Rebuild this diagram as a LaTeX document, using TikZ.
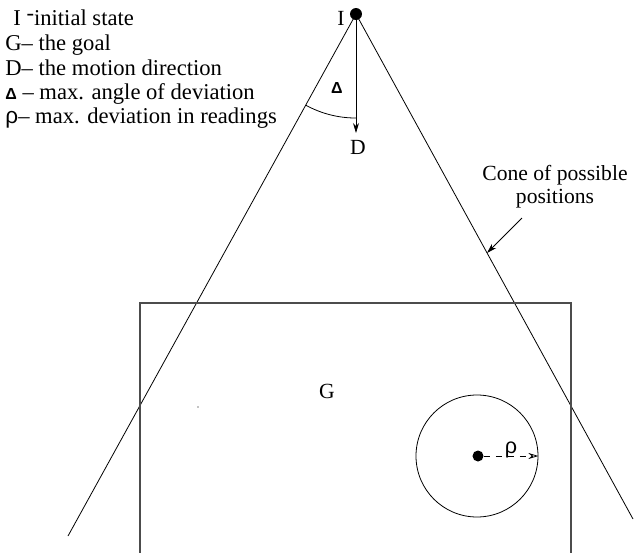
\documentclass[tikz,border=0pt]{standalone}
\usepackage{fontspec}
\setmainfont{Liberation Serif}
\newfontfamily\symfont{Liberation Sans}
\usetikzlibrary{arrows.meta, calc}
\tikzset{
  lbl/.style={inner sep=0pt, font=\fontsize{10.8}{11.5}\selectfont},
  legend/.style={inner sep=0pt, anchor=base west, font=\fontsize{11.3}{12}\selectfont},
  dotnode/.style={circle, fill=black, inner sep=0pt, minimum size=6pt},
  thinarrow/.style={-{Stealth[length=5pt, width=3pt, open]}, thin},
  boxline/.style={draw=black!70, line width=0.7pt},
  coneline/.style={thin, color=black}
}
\begin{document}
\begin{tikzpicture}[x=0.5pt, y=-0.5pt]
  \useasboundingbox (0,0) rectangle (634,553);

  % Legend
  \node[legend] (l1) at (13,25) {I \raisebox{2.5pt}{-}initial state};
  \node[legend] (l2) at (5,50) {G-- the goal};
  \node[legend] (l3) at (5,75) {D-- the motion direction};
  \node[legend] (l4) at (5,99) {{\symfont\fontsize{8}{9}\selectfont\textbf{Δ}} -- max. angle of deviation};
  \node[legend] (l5) at (5,123) {{\symfont ρ}-- max. deviation in readings};

  % Initial state and cone
  \node[dotnode] (I) at (356,14) {};
  \node[lbl] (Ilbl) at (341,18) {I};
  \coordinate (L) at (68,536);
  \coordinate (R) at (633,519);
  \draw[coneline] (I.center) -- (L);
  \draw[coneline] (I.center) -- (R);

  % Motion direction and deviation angle
  \coordinate (Dtip) at (356,133);
  \draw[-{Stealth[length=5pt, width=3pt]}, thin] (I.center) -- (Dtip);
  \node[lbl] (D) at (358,147) {D};
  \coordinate (arcA) at ($(I.center)!0.1746!(L)$);
  \draw[thin] (arcA) arc[start angle=241.2, end angle=270, radius=52pt];
  \node[lbl] (delta) at (337,88) {\symfont\fontsize{8}{9}\selectfont\textbf{Δ}};

  % Cone label
  \node[lbl, align=center] (cone) at (555,187) {Cone of possible\\positions};
  \coordinate (coneS) at (522,218);
  \coordinate (coneE) at (487,253);
  \draw[-{Stealth[length=5pt, width=3pt]}, thin] (coneS) -- (coneE);

  % Goal region
  \draw[boxline] (140,553) -- (140,303) -- (571,303) -- (571,553);
  \node[lbl] (G) at (327,391) {G};
  \fill (198,407) circle[radius=0.6];

  % Readings deviation
  \node[circle, draw, thin, minimum size=61pt, inner sep=0pt] (circ) at (477,456) {};
  \node[dotnode, minimum size=5.5pt] (p) at (478,456) {};
  \draw[thinarrow, dashed] (p) -- (circ.east);
  \node[lbl] (rho) at (511,450) {\symfont ρ};
\end{tikzpicture}
\end{document}
